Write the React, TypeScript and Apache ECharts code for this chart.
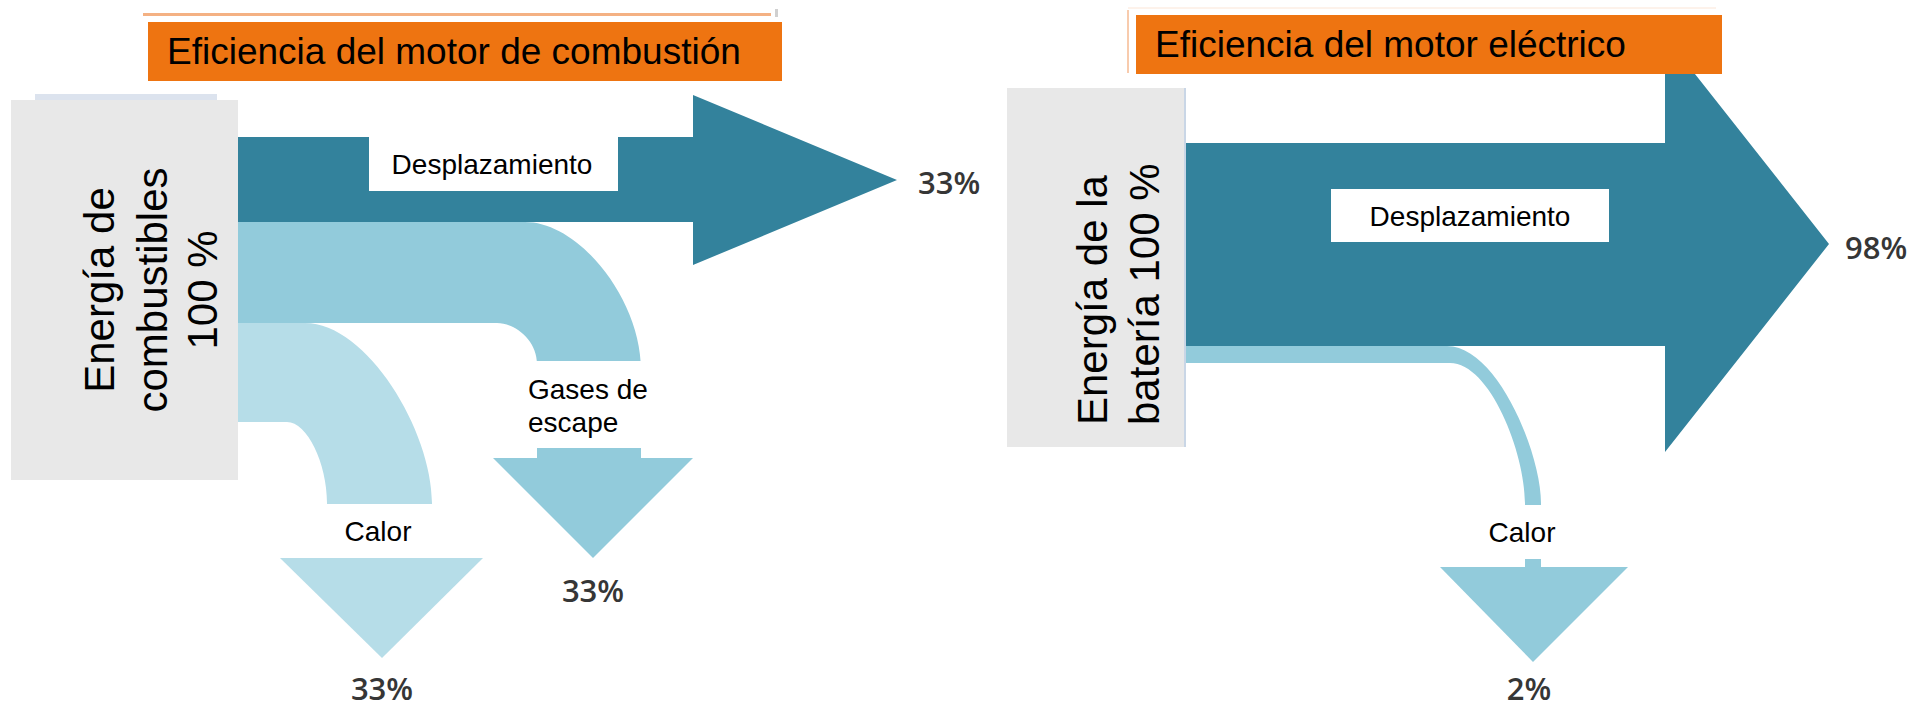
import React, { useEffect, useRef } from "react";
import * as echarts from "echarts";

// ---------- data ----------
const panelTitles = ["Eficiencia del motor de combustión", "Eficiencia del motor eléctrico"];
const combustionSource = ["Energía de", "combustibles", "100 %"];
const electricSource = ["Energía de la", "batería 100 %"];
const combustionFlows = ["Desplazamiento", "Gases de\nescape", "Calor"];
const combustionValues = [33, 33, 33];
const electricFlows = ["Desplazamiento", "Calor"];
const electricValues = [98, 2];

// ---------- layout / style ----------
const W = 1928;
const H = 709;
const FONT = "'Liberation Sans', Arial, sans-serif";
const PCT_FONT = "'Open Sans', 'Noto Sans', sans-serif";
const C = {
  dark: "#33829C",
  mid: "#92CBDB",
  light: "#B6DDE8",
  orange: "#EE7411",
  gray: "#E8E8E8",
  pct: "#363636",
};

const FLOW_LAYOUT: any[][] = [
  [
    {
      kind: "right", color: C.dark, x0: 237, top: 137, bottom: 222,
      headX: 693, headTop: 95, headBottom: 265, tipX: 897,
      box: [369, 137, 249, 54], label: { x: 492, y: 164.5, align: "center" },
      pct: { x: 918, y: 182, align: "left" },
    },
    {
      kind: "down", color: C.mid, x0: 237, top: 222, bottom: 323,
      os: 525, oa: 55, ob: 70, oe: 641, oy: 370,
      is: 497, ia: 18, ib: 24, ie: 537, iy: 364,
      shaftEnd: 460, headY: 458, headL: 493, headR: 693, tipX: 593, tipY: 558,
      box: [495, 361, 198, 87], label: { x: 528, y: 405.5, align: "left" },
      pct: { x: 593, y: 590, align: "center" },
    },
    {
      kind: "down", color: C.light, x0: 237, top: 323, bottom: 422,
      os: 305, oa: 62, ob: 72, oe: 432, oy: 503,
      is: 287, ia: 20, ib: 40, ie: 327, iy: 503,
      shaftEnd: 560, headY: 558, headL: 280, headR: 483, tipX: 382, tipY: 658,
      box: [325, 504, 158, 54], label: { x: 378, y: 531, align: "center" },
      pct: { x: 382, y: 688, align: "center" },
    },
  ],
  [
    {
      kind: "right", color: C.dark, x0: 1185, top: 143, bottom: 346,
      headX: 1665, headTop: 36, headBottom: 452, tipX: 1829,
      box: [1331, 189, 278, 53], label: { x: 1470, y: 216, align: "center" },
      pct: { x: 1845, y: 247, align: "left" },
    },
    {
      kind: "down", color: C.mid, x0: 1185, top: 346, bottom: 363,
      os: 1447, oa: 50, ob: 50, oe: 1541, oy: 503,
      is: 1450, ia: 40, ib: 50, ie: 1525, iy: 503,
      shaftEnd: 569, headY: 567, headL: 1440, headR: 1628, tipX: 1533, tipY: 662,
      box: [1470, 505, 130, 54], label: { x: 1522, y: 532, align: "center" },
      pct: { x: 1529, y: 688, align: "center" },
    },
  ],
];

const flowNames = [combustionFlows, electricFlows];

function renderFlow(params: any, api: any) {
  const panel = api.value(0);
  const idx = api.value(1);
  const val = api.value(2);
  const L = FLOW_LAYOUT[panel][idx];
  const name = flowNames[panel][idx];
  const p = (x: number, y: number) => api.coord([x, y]);
  const s = (x: number, y: number) => {
    const q = p(x, y);
    return q[0].toFixed(1) + "," + q[1].toFixed(1);
  };
  const children: any[] = [];

  if (L.kind === "right") {
    children.push({
      type: "polygon",
      shape: {
        points: [
          p(L.x0, L.top), p(L.headX, L.top), p(L.headX, L.headTop),
          p(L.tipX, (L.headTop + L.headBottom) / 2),
          p(L.headX, L.headBottom), p(L.headX, L.bottom), p(L.x0, L.bottom),
        ],
      },
      style: { fill: L.color },
    });
  } else {
    const d =
      "M" + s(L.x0, L.top) +
      " L" + s(L.os, L.top) +
      " C" + s(L.os + L.oa, L.top) + " " + s(L.oe, L.oy - L.ob) + " " + s(L.oe, L.oy) +
      " L" + s(L.oe, L.shaftEnd) +
      " L" + s(L.ie, L.shaftEnd) +
      " L" + s(L.ie, L.iy) +
      " C" + s(L.ie, L.iy - L.ib) + " " + s(L.is + L.ia, L.bottom) + " " + s(L.is, L.bottom) +
      " L" + s(L.x0, L.bottom) + " Z";
    children.push({ type: "path", shape: { pathData: d }, style: { fill: L.color } });
    children.push({
      type: "polygon",
      shape: { points: [p(L.headL, L.headY), p(L.headR, L.headY), p(L.tipX, L.tipY)] },
      style: { fill: L.color },
    });
  }

  const b0 = p(L.box[0], L.box[1]);
  const b1 = p(L.box[0] + L.box[2], L.box[1] + L.box[3]);
  children.push({
    type: "rect",
    shape: { x: b0[0], y: b0[1], width: b1[0] - b0[0], height: b1[1] - b0[1] },
    style: { fill: "#FFFFFF" },
  });
  const lp = p(L.label.x, L.label.y);
  children.push({
    type: "text",
    x: lp[0],
    y: lp[1],
    style: {
      text: name,
      fill: "#000000",
      fontSize: 28,
      fontFamily: FONT,
      lineHeight: 33,
      align: L.label.align,
      verticalAlign: "middle",
    },
  });
  const pp = p(L.pct.x, L.pct.y);
  children.push({
    type: "text",
    x: pp[0],
    y: pp[1],
    style: {
      text: val + "%",
      fill: C.pct,
      fontSize: 31,
      fontWeight: 600,
      fontFamily: PCT_FONT,
      align: L.pct.align,
      verticalAlign: "middle",
    },
  });
  return { type: "group", children };
}

function buildGraphic() {
  const els: any[] = [];
  // decorative frame lines
  els.push({ type: "line", z: 5, shape: { x1: 143, y1: 14.5, x2: 771, y2: 14.5 }, style: { stroke: "#F4B183", lineWidth: 3 } });
  els.push({ type: "rect", z: 5, shape: { x: 775, y: 9, width: 3, height: 8 }, style: { fill: "#D0D0D0" } });
  els.push({ type: "line", z: 5, shape: { x1: 1128, y1: 10, x2: 1128, y2: 73 }, style: { stroke: "#F8CBAD", lineWidth: 2 } });
  els.push({ type: "line", z: 5, shape: { x1: 1128, y1: 8, x2: 1716, y2: 8 }, style: { stroke: "#FBE5D6", lineWidth: 1 } });
  els.push({ type: "rect", z: 5, shape: { x: 35, y: 94, width: 182, height: 6 }, style: { fill: "#DCE3EE" } });

  // title boxes
  const titleBoxes = [
    { x: 148, y: 22, w: 634, h: 59, tx: 167, ty: 51 },
    { x: 1136, y: 15, w: 586, h: 59, tx: 1155, ty: 44 },
  ];
  titleBoxes.forEach((b, i) => {
    els.push({ type: "rect", z: 10, shape: { x: b.x, y: b.y, width: b.w, height: b.h }, style: { fill: C.orange } });
    els.push({
      type: "text", z: 11, x: b.tx, y: b.ty,
      style: { text: panelTitles[i], fill: "#000000", fontSize: 37, fontFamily: FONT, align: "left", verticalAlign: "middle" },
    });
  });

  // source boxes
  els.push({ type: "rect", z: 10, shape: { x: 11, y: 100, width: 227, height: 380 }, style: { fill: C.gray } });
  els.push({ type: "rect", z: 10, shape: { x: 1007, y: 88, width: 178, height: 359 }, style: { fill: C.gray } });
  els.push({ type: "line", z: 10, shape: { x1: 1185, y1: 88, x2: 1185, y2: 447 }, style: { stroke: "#C9D6E6", lineWidth: 2 } });

  const leftCols = [99, 152, 202];
  combustionSource.forEach((t, i) => {
    els.push({
      type: "text", z: 11, x: leftCols[i], y: 290, rotation: Math.PI / 2,
      style: { text: t, fill: "#000000", fontSize: 42, fontFamily: FONT, align: "center", verticalAlign: "middle" },
    });
  });
  const rightCols = [1092, 1144];
  electricSource.forEach((t, i) => {
    els.push({
      type: "text", z: 11, x: rightCols[i], y: 425, rotation: Math.PI / 2,
      style: { text: t, fill: "#000000", fontSize: 42, fontFamily: FONT, align: "left", verticalAlign: "middle" },
    });
  });
  return els;
}

export default function App() {
  const ref = useRef<HTMLDivElement>(null);
  useEffect(() => {
    document.body.style.margin = "0";
    document.body.style.overflow = "hidden";
    if (!ref.current) return;
    const chart = echarts.init(ref.current, null, { renderer: "svg" });
    const data = [
      ...combustionValues.map((v, i) => [0, i, v]),
      ...electricValues.map((v, i) => [1, i, v]),
    ];
    chart.setOption({
      animation: false,
      backgroundColor: "#FFFFFF",
      grid: { left: 0, right: 0, top: 0, bottom: 0, containLabel: false },
      xAxis: { type: "value", min: 0, max: W, show: false },
      yAxis: { type: "value", min: 0, max: H, inverse: true, show: false },
      graphic: { elements: buildGraphic() },
      series: [
        {
          type: "custom",
          coordinateSystem: "cartesian2d",
          silent: true,
          clip: false,
          z: 2,
          data,
          renderItem: renderFlow,
        },
      ],
    });
    return () => chart.dispose();
  }, []);
  return <div ref={ref} style={{ width: W, height: H }} />;
}
